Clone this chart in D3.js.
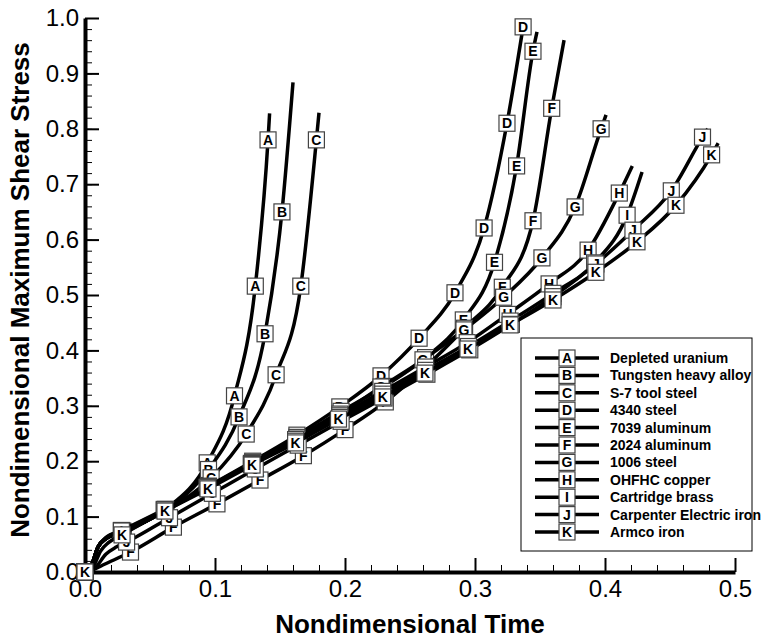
<!DOCTYPE html>
<html>
<head>
<meta charset="utf-8">
<script src="https://cdn.jsdelivr.net/npm/d3@7"></script>
<style>
  body { margin: 0; background: #fff; }
  svg { font-family: "Liberation Sans", Arial, sans-serif; }
</style>
</head>
<body>
<div id="chart"></div>
<script>
// Series letters and material names (legend order)
const letters = ["A", "B", "C", "D", "E", "F", "G", "H", "I", "J", "K"];
const materials = ["Depleted uranium", "Tungsten heavy alloy", "S-7 tool steel", "4340 steel",
    "7039 aluminum", "2024 aluminum", "1006 steel", "OHFHC copper", "Cartridge brass",
    "Carpenter Electric iron", "Armco iron"];

// [nondimensional time, nondimensional max shear stress]
const curveA = [[0,0],[0.005,0.012],[0.01,0.045],[0.016,0.06],[0.029,0.074],[0.062,0.113],[0.094,0.197],[0.115,0.318],[0.131,0.516],[0.1408,0.78],[0.142,0.828]];
const curveB = [[0,0],[0.005,0.012],[0.01,0.045],[0.016,0.06],[0.029,0.073],[0.062,0.112],[0.095,0.185],[0.1185,0.28],[0.1385,0.43],[0.1515,0.65],[0.160,0.884]];
const curveC = [[0,0],[0.005,0.012],[0.01,0.045],[0.016,0.06],[0.029,0.072],[0.062,0.111],[0.097,0.17],[0.124,0.249],[0.147,0.356],[0.166,0.516],[0.178,0.78],[0.180,0.829]];
const curveD = [[0,0],[0.005,0.012],[0.01,0.045],[0.016,0.06],[0.029,0.072],[0.062,0.112],[0.095,0.155],[0.129,0.2],[0.163,0.247],[0.196,0.298],[0.2277,0.354],[0.257,0.422],[0.2846,0.504],[0.307,0.621],[0.3246,0.81],[0.337,0.984]];
const curveE = [[0,0],[0.005,0.012],[0.01,0.045],[0.016,0.06],[0.029,0.071],[0.062,0.111],[0.095,0.154],[0.129,0.198],[0.163,0.243],[0.197,0.29],[0.23,0.335],[0.262,0.387],[0.291,0.455],[0.315,0.559],[0.332,0.733],[0.3446,0.94],[0.3477,0.975]];
const curveF = [[0,0],[0.006,0.004],[0.015,0.014],[0.035,0.036],[0.068,0.081],[0.1015,0.123],[0.1346,0.166],[0.168,0.21],[0.2,0.257],[0.231,0.307],[0.262,0.37],[0.292,0.44],[0.321,0.514],[0.3446,0.634],[0.359,0.837],[0.3685,0.96]];
const curveG = [[0,0],[0.005,0.012],[0.01,0.045],[0.016,0.06],[0.029,0.071],[0.062,0.111],[0.095,0.153],[0.129,0.197],[0.163,0.24],[0.196,0.285],[0.2277,0.334],[0.26,0.383],[0.2915,0.437],[0.322,0.496],[0.3515,0.567],[0.377,0.659],[0.397,0.80],[0.4008,0.825]];
const curveH = [[0,0],[0.005,0.012],[0.01,0.045],[0.016,0.062],[0.028,0.075],[0.061,0.113],[0.094,0.153],[0.128,0.196],[0.162,0.239],[0.196,0.282],[0.229,0.326],[0.262,0.37],[0.294,0.414],[0.325,0.465],[0.357,0.52],[0.387,0.581],[0.411,0.684],[0.421,0.733]];
const curveI = [[0,0],[0.005,0.012],[0.01,0.045],[0.016,0.061],[0.028,0.074],[0.061,0.112],[0.094,0.152],[0.128,0.194],[0.162,0.236],[0.196,0.279],[0.229,0.321],[0.262,0.364],[0.295,0.407],[0.327,0.453],[0.36,0.503],[0.392,0.558],[0.417,0.644],[0.4285,0.722]];
const curveJ = [[0,0],[0.008,0.008],[0.016,0.032],[0.024,0.045],[0.032,0.054],[0.065,0.098],[0.098,0.142],[0.131,0.186],[0.164,0.229],[0.197,0.272],[0.23,0.314],[0.263,0.357],[0.296,0.401],[0.328,0.447],[0.36,0.497],[0.393,0.556],[0.4215,0.617],[0.451,0.688],[0.475,0.785],[0.479,0.80]];
const curveK = [[0,0],[0.006,0.008],[0.012,0.038],[0.018,0.053],[0.0285,0.067],[0.0615,0.11],[0.0946,0.15],[0.1285,0.193],[0.162,0.233],[0.195,0.276],[0.229,0.316],[0.2615,0.359],[0.2946,0.4025],[0.327,0.446],[0.36,0.491],[0.393,0.541],[0.4246,0.596],[0.4546,0.662],[0.482,0.753],[0.487,0.774]];

// which points of each curve carry a lettered symbol
const marksA = [0,4,5,6,7,8,9];
const marksB = [0,4,5,6,7,8,9];
const marksC = [0,4,5,6,7,8,9,10];
const marksD = [0,4,5,6,7,8,9,10,11,12,13,14,15];
const marksE = [0,4,5,6,7,8,9,10,11,12,13,14,15];
const marksF = [0,3,4,5,6,7,8,9,10,11,12,13,14];
const marksG = [0,4,5,6,7,8,9,10,11,12,13,14,15,16];
const marksH = [0,4,5,6,7,8,9,10,11,12,13,14,15,16];
const marksI = [0,4,5,6,7,8,9,10,11,12,13,14,15,16];
const marksJ = [0,4,5,6,7,8,9,10,11,12,13,14,15,16,17,18];
const marksK = [0,4,5,6,7,8,9,10,11,12,13,14,15,16,17,18];

const xTicks = [0, 0.1, 0.2, 0.3, 0.4, 0.5];
const yTicks = [0, 0.1, 0.2, 0.3, 0.4, 0.5, 0.6, 0.7, 0.8, 0.9, 1.0];

const curves = [curveA, curveB, curveC, curveD, curveE, curveF, curveG, curveH, curveI, curveJ, curveK];
const marks = [marksA, marksB, marksC, marksD, marksE, marksF, marksG, marksH, marksI, marksJ, marksK];

const width = 771, height = 642;
const plot = { left: 85, right: 735, top: 18, bottom: 572 };

const svg = d3.select("#chart")
    .append("svg")
    .attr("width", width)
    .attr("height", height);

const xScale = d3.scaleLinear().domain([0, 0.5]).range([plot.left, plot.right]);
const yScale = d3.scaleLinear().domain([0, 1]).range([plot.bottom, plot.top]);

// minor ticks every 0.02
const xMinor = d3.range(0, 0.5001, 0.02);
const yMinor = d3.range(0, 1.0001, 0.02);

svg.append("g")
    .attr("transform", `translate(0,${plot.bottom})`)
    .call(d3.axisBottom(xScale).tickValues(xMinor).tickFormat("").tickSizeInner(-7).tickSizeOuter(0))
    .call(g => g.select(".domain").remove())
    .selectAll("line").attr("stroke", "#000").attr("stroke-width", 1);

svg.append("g")
    .attr("transform", `translate(${plot.left},0)`)
    .call(d3.axisLeft(yScale).tickValues(yMinor).tickFormat("").tickSizeInner(-7).tickSizeOuter(0))
    .call(g => g.select(".domain").remove())
    .selectAll("line").attr("stroke", "#000").attr("stroke-width", 1);

// major ticks and labels
const xAxis = svg.append("g")
    .attr("transform", `translate(0,${plot.bottom})`)
    .call(d3.axisBottom(xScale).tickValues(xTicks).tickFormat(d3.format(".1f")).tickSizeInner(-14).tickSizeOuter(0).tickPadding(8));
xAxis.select(".domain").attr("stroke-width", 4).attr("stroke", "#000");
xAxis.selectAll(".tick line").attr("stroke-width", 2);
xAxis.selectAll(".tick text").attr("font-size", 24).attr("fill", "#000")
    .attr("font-family", "Liberation Sans, Arial, sans-serif");

const yAxis = svg.append("g")
    .attr("transform", `translate(${plot.left},0)`)
    .call(d3.axisLeft(yScale).tickValues(yTicks).tickFormat(d3.format(".1f")).tickSizeInner(-14).tickSizeOuter(0).tickPadding(6));
yAxis.select(".domain").attr("stroke-width", 4).attr("stroke", "#000");
yAxis.selectAll(".tick line").attr("stroke-width", 2);
yAxis.selectAll(".tick text").attr("font-size", 24).attr("fill", "#000")
    .attr("font-family", "Liberation Sans, Arial, sans-serif");

// axis titles
svg.append("text")
    .attr("x", (plot.left + plot.right) / 2)
    .attr("y", 633)
    .attr("text-anchor", "middle")
    .attr("font-size", 26)
    .attr("font-weight", "bold")
    .text("Nondimensional Time");

svg.append("text")
    .attr("transform", `translate(29,${(plot.top + plot.bottom) / 2 - 5}) rotate(-90)`)
    .attr("text-anchor", "middle")
    .attr("font-size", 26)
    .attr("font-weight", "bold")
    .text("Nondimensional Maximum Shear Stress");

const line = d3.line()
    .x(d => xScale(d[0]))
    .y(d => yScale(d[1]))
    .curve(d3.curveMonotoneX);

function drawSymbol(g, cx, cy, letter) {
    g.append("rect")
        .attr("x", cx - 8).attr("y", cy - 8)
        .attr("width", 16).attr("height", 16)
        .attr("fill", "#fff")
        .attr("stroke", "#444")
        .attr("stroke-width", 1.2);
    g.append("text")
        .attr("x", cx).attr("y", cy + 5)
        .attr("text-anchor", "middle")
        .attr("font-size", 14)
        .attr("font-weight", "bold")
        .text(letter);
}

// each line map drawn in order with its symbols
curves.forEach((pts, i) => {
    const g = svg.append("g");
    g.append("path")
        .attr("d", line(pts))
        .attr("fill", "none")
        .attr("stroke", "#000")
        .attr("stroke-width", 3.5);
    marks[i].forEach(k => {
        drawSymbol(g, xScale(pts[k][0]), yScale(pts[k][1]), letters[i]);
    });
});

// legend
const legend = svg.append("g");
legend.append("rect")
    .attr("x", 521).attr("y", 338)
    .attr("width", 231).attr("height", 213)
    .attr("fill", "#fff")
    .attr("stroke", "#000")
    .attr("stroke-width", 1);

letters.forEach((l, i) => {
    const y = 358 + i * 17.4;
    legend.append("line")
        .attr("x1", 535).attr("x2", 599)
        .attr("y1", y).attr("y2", y)
        .attr("stroke", "#000")
        .attr("stroke-width", 3.5);
    drawSymbol(legend, 567, y, l);
    legend.append("text")
        .attr("x", 610).attr("y", y + 5)
        .attr("font-size", 14)
        .attr("font-weight", "bold")
        .text(materials[i]);
});
</script>
</body>
</html>
